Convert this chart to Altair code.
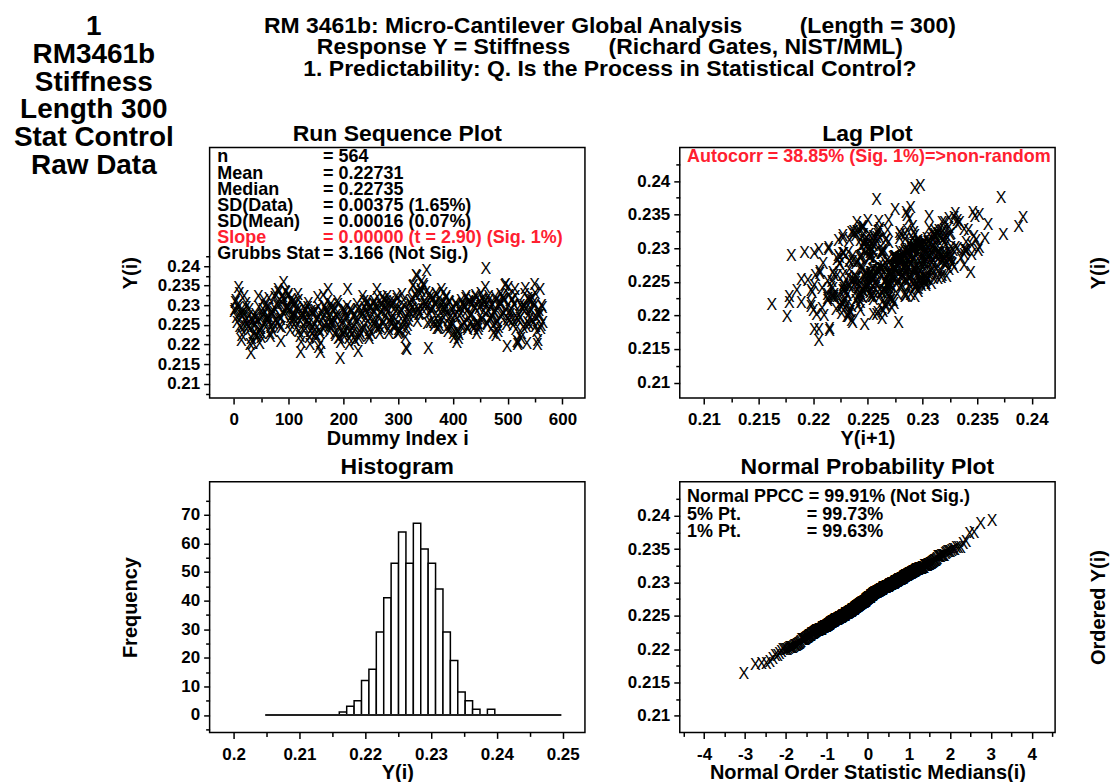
import altair as alt
import pandas as pd

FONT = "Liberation Sans"
RED = "#ff2030"

# ---------------- data (stiffness in units of 0.0001) ----------------
y_001_096 = [
    2282, 2287, 2306, 2312, 2267, 2254, 2297, 2290, 2345, 2329, 2245, 2276,
    2239, 2208, 2221, 2271, 2283, 2276, 2320, 2246, 2257, 2303, 2292, 2262,
    2249, 2242, 2271, 2287, 2236, 2198, 2176, 2215, 2266, 2258, 2202, 2226,
    2245, 2250, 2266, 2275, 2224, 2219, 2263, 2257, 2322, 2292, 2201, 2233,
    2239, 2218, 2226, 2269, 2287, 2274, 2310, 2247, 2252, 2298, 2291, 2263,
    2269, 2263, 2293, 2315, 2258, 2227, 2219, 2243, 2281, 2279, 2233, 2252,
    2281, 2291, 2319, 2325, 2260, 2252, 2304, 2296, 2340, 2332, 2245, 2269,
    2262, 2206, 2243, 2303, 2321, 2314, 2357, 2275, 2284, 2335, 2332, 2291,
]
y_097_192 = [
    2295, 2291, 2321, 2326, 2286, 2252, 2234, 2267, 2313, 2304, 2255, 2276,
    2266, 2275, 2299, 2305, 2254, 2240, 2294, 2284, 2326, 2311, 2233, 2259,
    2219, 2178, 2205, 2264, 2277, 2269, 2293, 2232, 2243, 2288, 2282, 2255,
    2272, 2260, 2293, 2303, 2249, 2217, 2198, 2232, 2284, 2277, 2224, 2241,
    2241, 2250, 2277, 2285, 2224, 2213, 2266, 2259, 2318, 2293, 2192, 2235,
    2228, 2178, 2201, 2258, 2281, 2268, 2324, 2237, 2245, 2295, 2287, 2252,
    2284, 2278, 2308, 2340, 2269, 2244, 2233, 2255, 2301, 2290, 2248, 2257,
    2250, 2265, 2284, 2291, 2227, 2222, 2273, 2267, 2309, 2301, 2214, 2241,
]
y_193_288 = [
    2216, 2162, 2205, 2233, 2263, 2252, 2288, 2223, 2229, 2285, 2280, 2233,
    2269, 2262, 2296, 2340, 2250, 2213, 2198, 2231, 2289, 2282, 2222, 2239,
    2228, 2244, 2267, 2276, 2209, 2208, 2263, 2253, 2302, 2289, 2180, 2215,
    2231, 2219, 2228, 2269, 2283, 2276, 2322, 2235, 2246, 2308, 2294, 2265,
    2285, 2279, 2301, 2309, 2258, 2222, 2213, 2235, 2296, 2292, 2227, 2254,
    2274, 2284, 2301, 2309, 2255, 2247, 2298, 2290, 2338, 2318, 2239, 2268,
    2245, 2228, 2242, 2280, 2297, 2285, 2319, 2251, 2254, 2314, 2308, 2269,
    2292, 2286, 2308, 2320, 2280, 2236, 2227, 2261, 2305, 2297, 2250, 2266,
]
y_289_384 = [
    2260, 2269, 2300, 2305, 2246, 2241, 2293, 2282, 2320, 2314, 2227, 2252,
    2236, 2229, 2231, 2277, 2289, 2284, 2325, 2242, 2254, 2310, 2296, 2263,
    2218, 2189, 2236, 2185, 2247, 2259, 2270, 2284, 2281, 2304, 2297, 2312,
    2291, 2316, 2347, 2348, 2286, 2275, 2327, 2320, 2374, 2372, 2258, 2289,
    2287, 2275, 2277, 2327, 2338, 2334, 2360, 2289, 2300, 2352, 2346, 2306,
    2302, 2299, 2332, 2388, 2293, 2252, 2189, 2278, 2326, 2315, 2256, 2288,
    2282, 2292, 2314, 2317, 2255, 2247, 2303, 2300, 2330, 2324, 2240, 2269,
    2255, 2239, 2248, 2293, 2303, 2296, 2339, 2260, 2271, 2329, 2306, 2288,
]
y_385_480 = [
    2298, 2287, 2316, 2322, 2279, 2241, 2233, 2262, 2309, 2305, 2247, 2270,
    2243, 2249, 2286, 2292, 2228, 2217, 2274, 2271, 2303, 2298, 2205, 2234,
    2230, 2213, 2225, 2271, 2294, 2279, 2310, 2243, 2248, 2302, 2296, 2254,
    2299, 2293, 2315, 2320, 2284, 2243, 2237, 2265, 2308, 2305, 2250, 2271,
    2274, 2276, 2301, 2311, 2248, 2239, 2296, 2291, 2324, 2318, 2227, 2254,
    2253, 2236, 2245, 2291, 2308, 2296, 2328, 2261, 2264, 2317, 2312, 2284,
    2305, 2303, 2345, 2392, 2298, 2253, 2250, 2284, 2320, 2311, 2266, 2293,
    2263, 2269, 2296, 2302, 2244, 2228, 2284, 2279, 2318, 2310, 2223, 2255,
]
y_481_564 = [
    2257, 2232, 2242, 2293, 2305, 2300, 2326, 2268, 2275, 2320, 2314, 2279,
    2316, 2311, 2349, 2352, 2285, 2251, 2195, 2263, 2344, 2324, 2259, 2282,
    2275, 2289, 2312, 2313, 2261, 2248, 2302, 2297, 2338, 2320, 2237, 2265,
    2206, 2200, 2203, 2259, 2272, 2264, 2298, 2214, 2227, 2293, 2287, 2243,
    2299, 2293, 2325, 2342, 2288, 2244, 2201, 2255, 2317, 2311, 2250, 2266,
    2281, 2287, 2312, 2319, 2259, 2252, 2304, 2296, 2351, 2330, 2246, 2268,
    2233, 2199, 2210, 2272, 2285, 2273, 2338, 2240, 2247, 2298, 2292, 2256,
]

# histogram
hist_counts = [1, 3, 5, 12, 16, 29, 41, 53, 64, 53, 67, 58, 53, 44, 29, 19, 8, 5, 2, 0, 2]
hist_first_edge = 0.21606
hist_bin_width = 0.001125
hist_line_ends = [0.2048, 0.2498]

# tick values
runseq_x_ticks = [0, 50, 100, 150, 200, 250, 300, 350, 400, 450, 500, 550, 600]
runseq_x_major = [0, 100, 200, 300, 400, 500, 600]
runseq_y_ticks = [0.2075, 0.21, 0.2125, 0.215, 0.2175, 0.22, 0.2225, 0.225, 0.2275, 0.23,
                  0.2325, 0.235, 0.2375, 0.24, 0.2425]
y_major = [0.21, 0.215, 0.22, 0.225, 0.23, 0.235, 0.24]
lag_x_ticks = [0.21, 0.2125, 0.215, 0.2175, 0.22, 0.2225, 0.225, 0.2275, 0.23, 0.2325,
               0.235, 0.2375, 0.24]
lag_y_ticks = [0.21, 0.2125, 0.215, 0.2175, 0.22, 0.2225, 0.225, 0.2275, 0.23, 0.2325,
               0.235, 0.2375, 0.24, 0.2425]
hist_x_ticks = [0.2, 0.205, 0.21, 0.215, 0.22, 0.225, 0.23, 0.235, 0.24, 0.245, 0.25]
hist_x_major = [0.2, 0.21, 0.22, 0.23, 0.24, 0.25]
hist_y_ticks = [-5, 0, 5, 10, 15, 20, 25, 30, 35, 40, 45, 50, 55, 60, 65, 70, 75]
hist_y_major = [0, 10, 20, 30, 40, 50, 60, 70]
npp_x_ticks = [-4.5, -4, -3.5, -3, -2.5, -2, -1.5, -1, -0.5, 0, 0.5, 1, 1.5, 2, 2.5, 3, 3.5, 4, 4.5]
npp_x_major = [-4, -3, -2, -1, 0, 1, 2, 3, 4]

# texts
main_title = [
    "RM 3461b: Micro-Cantilever Global Analysis " + "\u00a0" * 8 + "(Length = 300)",
    "Response Y = Stiffness " + "\u00a0" * 5 + "(Richard Gates, NIST/MML)",
    "1. Predictability: Q. Is the Process in Statistical Control?",
]
side_title = ["1", "RM3461b", "Stiffness", "Length 300", "Stat Control", "Raw Data"]
stat_labels = ["n", "Mean", "Median", "SD(Data)", "SD(Mean)"]
stat_values = ["= 564", "= 0.22731", "= 0.22735", "= 0.00375 (1.65%)", "= 0.00016 (0.07%)"]
slope_label, slope_value = "Slope", "= 0.00000 (t = 2.90) (Sig. 1%)"
grubbs_label, grubbs_value = "Grubbs Stat", "= 3.166 (Not Sig.)"
lag_text = "Autocorr = 38.85% (Sig. 1%)=>non-random"
npp_label_first = "Normal PPCC = 99.91% (Not Sig.)"
npp_labels = ["5% Pt.", "1% Pt."]
npp_values = ["= 99.73%", "= 99.63%"]

# ---------------- frames ----------------
stiffness = [v / 10000 for v in y_001_096 + y_097_192 + y_193_288 + y_289_384 + y_385_480 + y_481_564]
n = len(stiffness)
run_df = pd.DataFrame({"i": list(range(1, n + 1)), "y": stiffness})
lag_df = pd.DataFrame({"x": stiffness[1:], "y": stiffness[:-1]})
hist_df = pd.DataFrame({
    "x0": [round(hist_first_edge + k * hist_bin_width, 6) for k in range(len(hist_counts))],
    "count": hist_counts,
})
hist_df["x1"] = hist_df["x0"] + hist_bin_width
hist_df["zero"] = 0
base_df = pd.DataFrame({"x0": [hist_line_ends[0]], "x1": [hist_line_ends[1]], "count": [0]})
one = pd.DataFrame({"k": [0]})

W, H = 376, 251


def axis(ticks, majors, orient, title, tx, ty, pad):
    arr = "[" + ",".join(repr(v) for v in majors) + "]"
    test = f"indexof({arr}, datum.value) >= 0"
    return alt.Axis(
        values=ticks, orient=orient, title=title,
        titleX=tx, titleY=ty, titleAngle=0 if orient == "bottom" else 270,
        titleAlign="center", titleBaseline="alphabetic",
        labelExpr=f"{test} ? datum.value + '' : ''",
        tickSize={"condition": {"test": test, "value": 6}, "value": 4},
        labelPadding=pad,
    )


def txt(lines, x, y, size, color="black", align="left", lh=None):
    kw = dict(text=lines, font=FONT, fontSize=size, fontWeight="bold", color=color,
              align=align, baseline="alphabetic")
    if lh is not None:
        kw["lineHeight"] = lh
    return alt.Chart(one).mark_text(**kw).encode(x=alt.value(x), y=alt.value(y))


def xmarks(df, x, y):
    return alt.Chart(df).mark_text(text="X", font=FONT, fontSize=16, align="center",
                                   baseline="middle", color="black").encode(x=x, y=y)


XPAD, YPAD = 8, 4
LEFT_T, RIGHT_T, BOT_T = -73, 425, 46.5
LH = 16.2

# Panel A: run sequence
xA = alt.X("i:Q", scale=alt.Scale(domain=[-44, 641], nice=False, zero=False),
           axis=axis(runseq_x_ticks, runseq_x_major, "bottom", "Dummy Index i", W / 2, BOT_T, XPAD))
yA = alt.Y("y:Q", scale=alt.Scale(domain=[0.2064, 0.2702], nice=False, zero=False),
           axis=axis(runseq_y_ticks, y_major, "left", "Y(i)", LEFT_T, H / 2, YPAD))
anchor = alt.Chart(one).mark_rule(opacity=0, strokeWidth=0.01).encode(
    x=alt.value(-209), x2=alt.value(901), y=alt.value(-146), y2=alt.value(636))
A = alt.layer(
    xmarks(run_df, xA, yA),
    anchor,
    txt(stat_labels, 7.7, 15, 18, lh=LH),
    txt(stat_values, 113.7, 15, 18, lh=LH),
    txt([slope_label], 7.7, 15 + 5 * LH, 18, color=RED),
    txt([slope_value], 113.7, 15 + 5 * LH, 18, color=RED),
    txt([grubbs_label], 7.7, 15 + 6 * LH, 18),
    txt([grubbs_value], 113.7, 15 + 6 * LH, 18),
    txt(["Run Sequence Plot"], W / 2, -6.7, 23, align="center"),
    txt(main_title, 401, -115, 23, align="center", lh=21.5),
    txt(side_title, -116, -112.7, 28, align="center", lh=27.9),
).properties(width=W, height=H)

# Panel B: lag plot
xB = alt.X("x:Q", scale=alt.Scale(domain=[0.20778, 0.24214], nice=False, zero=False),
           axis=axis(lag_x_ticks, y_major, "bottom", "Y(i+1)", W / 2, BOT_T, XPAD))
yB = alt.Y("y:Q", scale=alt.Scale(domain=[0.2077, 0.2450], nice=False, zero=False),
           axis=axis(lag_y_ticks, y_major, "left", "Y(i)", RIGHT_T, H / 2, YPAD))
B = alt.layer(
    xmarks(lag_df, xB, yB),
    txt([lag_text], 7.3, 15, 18, color=RED),
    txt(["Lag Plot"], W / 2, -6.7, 23, align="center"),
).properties(width=W, height=H)

# Panel C: histogram
xC = alt.X("x0:Q", scale=alt.Scale(domain=[0.19636, 0.25338], nice=False, zero=False),
           axis=axis(hist_x_ticks, hist_x_major, "bottom", "Y(i)", W / 2, BOT_T, XPAD))
yC = alt.Y("count:Q", scale=alt.Scale(domain=[-6.1, 81.5], nice=False, zero=False),
           axis=axis(hist_y_ticks, hist_y_major, "left", "Frequency", LEFT_T, H / 2, YPAD))
bars = alt.Chart(hist_df).mark_rect(fill="white", stroke="black", strokeWidth=1.5).encode(
    x=xC, x2="x1:Q", y=yC, y2="zero:Q")
baseline = alt.Chart(base_df).mark_rule(color="#222222", strokeWidth=2).encode(
    x=xC, x2="x1:Q", y=yC)
C = alt.layer(
    bars, baseline,
    txt(["Histogram"], W / 2, -7.7, 23, align="center"),
).properties(width=W, height=H)

# Panel D: normal probability plot
xD = alt.X("m:Q", scale=alt.Scale(domain=[-4.593, 4.569], nice=False, zero=False),
           axis=axis(npp_x_ticks, npp_x_major, "bottom", "Normal Order Statistic Medians(i)", W / 2, BOT_T, XPAD))
yD = alt.Y("y:Q", scale=alt.Scale(domain=[0.2075, 0.2451], nice=False, zero=False),
           axis=axis(lag_y_ticks, y_major, "left", "Ordered Y(i)", RIGHT_T, H / 2, YPAD))
npp_pts = alt.Chart(run_df).transform_window(
    rank="row_number()", sort=[alt.SortField("y", order="ascending")]
).transform_calculate(
    p=f"datum.rank == 1 ? 1 - pow(0.5, 1/{n}) : datum.rank == {n} ? pow(0.5, 1/{n}) : (datum.rank - 0.3175)/({n} + 0.365)"
).transform_calculate(
    m="quantileNormal(datum.p)"
).mark_text(text="X", font=FONT, fontSize=16, align="center", baseline="middle", color="black").encode(
    x=xD, y=yD)
D = alt.layer(
    npp_pts,
    txt([npp_label_first], 7.3, 20.5, 18),
    txt(npp_labels, 7.3, 20.5 + 17.3, 18, lh=17.3),
    txt(npp_values, 127.3, 20.5 + 17.3, 18, lh=17.3),
    txt(["Normal Probability Plot"], W / 2, -7.7, 23, align="center"),
).properties(width=W, height=H)

chart = alt.concat(
    A, B, C, D, columns=2, spacing={"row": 84, "column": 95}, bounds="flush"
).properties(
    padding=0, background="white"
).configure_view(
    stroke="black", strokeWidth=1.5
).configure_axis(
    domain=False, grid=False, ticks=True, tickColor="black", tickWidth=1.5,
    labelFont=FONT, labelFontSize=17, labelFontWeight="bold", labelColor="black",
    titleFont=FONT, titleFontSize=20, titleFontWeight="bold", titleColor="black",
    labelOverlap=False, labelFlush=False,
)

chart.save("out.html", embed_options={"renderer": "svg", "actions": False})
